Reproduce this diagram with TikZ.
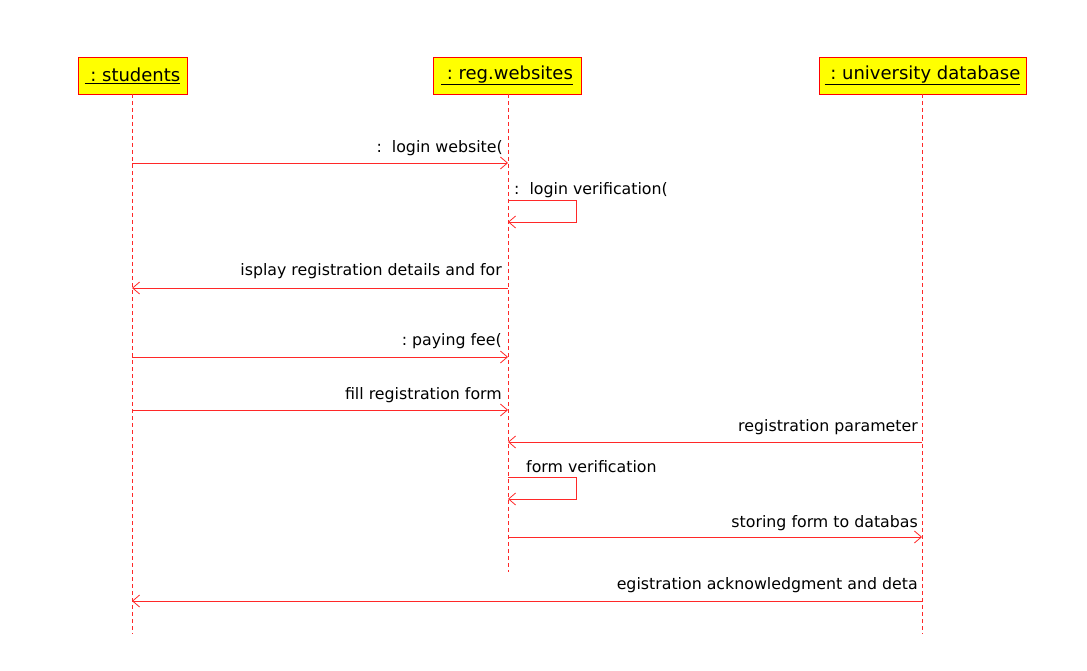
\documentclass[tikz,border=0pt]{standalone}
\usepackage{fontspec}
\setmainfont{DejaVu Sans}
\usetikzlibrary{arrows.meta}
\definecolor{lred}{RGB}{255,40,40}
\definecolor{hdr}{RGB}{255,255,0}
\tikzset{
  obj/.style={draw=red, fill=hdr, line width=0.9pt, minimum height=37pt, inner sep=0pt, font=\fontsize{18}{20}\selectfont},
  life/.style={draw=lred, dashed, dash pattern=on 4pt off 3pt, line width=0.8pt},
  msg/.style={draw=lred, line width=0.8pt, -{Straight Barb[length=7pt, width=12pt, line width=0.8pt]}},
  lbl/.style={font=\fontsize{15.8}{18}\selectfont, inner sep=0pt},
}
\newcommand{\hdrtext}[1]{\raisebox{-2.5pt}{\underline{#1}}}
\begin{document}
\begin{tikzpicture}[x=1pt, y=-1pt]
\useasboundingbox (0,0) rectangle (1087,671);
% objects
\node[obj, minimum width=109pt] (s) at (132.5,75.5) {\hdrtext{\ :\ students}};
\node[obj, minimum width=148pt] (w) at (507,75.5) {\hdrtext{\ :\ reg.websites}};
\node[obj, minimum width=207pt] (d) at (922.5,75.5) {\hdrtext{\ :\ university database}};
% lifeline ends
\coordinate (se) at (132,634);
\coordinate (we) at (508,572);
\coordinate (de) at (922,634);
\draw[life] (132,94) -- (se);
\draw[life] (508,94) -- (we);
\draw[life] (922,94) -- (de);
% message points
\coordinate (s1) at (132,163); \coordinate (w1) at (508,163);
\coordinate (w2a) at (508,200); \coordinate (w2b) at (576,200); \coordinate (w2c) at (576,222); \coordinate (w2d) at (508,222);
\coordinate (w3) at (508,288); \coordinate (s3) at (132,288);
\coordinate (s4) at (132,357); \coordinate (w4) at (508,357);
\coordinate (s5) at (132,410); \coordinate (w5) at (508,410);
\coordinate (d6) at (922,442); \coordinate (w6) at (508,442);
\coordinate (w7a) at (508,477); \coordinate (w7b) at (576,477); \coordinate (w7c) at (576,499); \coordinate (w7d) at (508,499);
\coordinate (w8) at (508,537); \coordinate (d8) at (922,537);
\coordinate (d9) at (922,601); \coordinate (s9) at (132,601);
% messages
\draw[msg] (s1) -- (w1);
\draw[msg] (w2a) -- (w2b) -- (w2c) -- (w2d);
\draw[msg] (w3) -- (s3);
\draw[msg] (s4) -- (w4);
\draw[msg] (s5) -- (w5);
\draw[msg] (d6) -- (w6);
\draw[msg] (w7a) -- (w7b) -- (w7c) -- (w7d);
\draw[msg] (w8) -- (d8);
\draw[msg] (d9) -- (s9);
% labels
\node[lbl, anchor=east] (l1) at (503,148) {:\ \ login website(};
\node[lbl, anchor=west] (l2) at (514,190) {:\ \ login verification(};
\node[lbl, anchor=east] (l3) at (502,271) {isplay registration details and for};
\node[lbl, anchor=east] (l4) at (502,341) {:\ paying fee(};
\node[lbl, anchor=east] (l5) at (502,395) {fill registration form};
\node[lbl, anchor=east] (l6) at (918,427) {registration parameter};
\node[lbl, anchor=west] (l7) at (526,467) {form verification};
\node[lbl, anchor=east] (l8) at (918,523) {storing form to databas};
\node[lbl, anchor=east] (l9) at (918,585) {egistration acknowledgment and deta};
\end{tikzpicture}
\end{document}
